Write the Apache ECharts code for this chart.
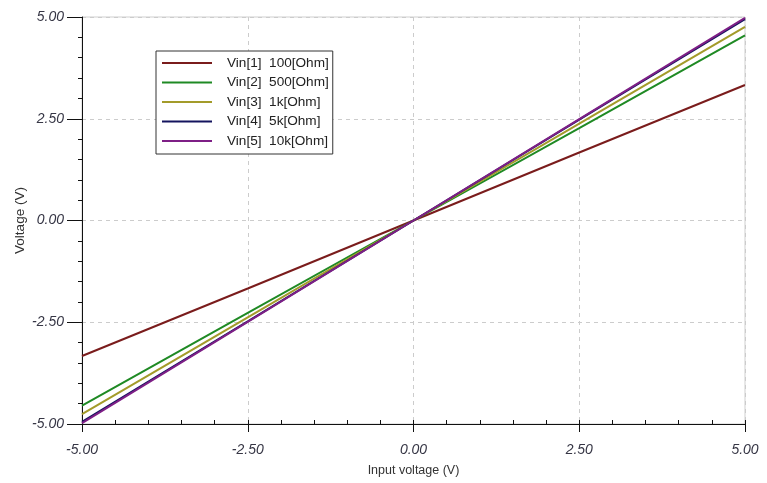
<!DOCTYPE html>
<html>
<head>
<meta charset="utf-8">
<script src="https://cdn.jsdelivr.net/npm/echarts@6/dist/echarts.min.js"></script>
<style>
  html, body { margin: 0; padding: 0; background: #fff; }
  #chart { width: 767px; height: 483px; }
</style>
</head>
<body>
<div id="chart"></div>
<script>
// Input voltage sweep points (V)
const inputVoltage = [-5.0, -2.5, 0.0, 2.5, 5.0];

// Output voltage for each load resistance (V)
const vin1 = [-3.33, -1.67, 0.0, 1.67, 3.33];
const vin2 = [-4.55, -2.27, 0.0, 2.27, 4.55];
const vin3 = [-4.76, -2.38, 0.0, 2.38, 4.76];
const vin4 = [-4.95, -2.48, 0.0, 2.48, 4.95];
const vin5 = [-4.98, -2.49, 0.0, 2.49, 4.98];

const seriesNames = [
  'Vin[1]  100[Ohm]',
  'Vin[2]  500[Ohm]',
  'Vin[3]  1k[Ohm]',
  'Vin[4]  5k[Ohm]',
  'Vin[5]  10k[Ohm]'
];
const seriesValues = [vin1, vin2, vin3, vin4, vin5];
const seriesColors = ['#7a1c1c', '#1f8a24', '#a39b2a', '#14145e', '#7e1f86'];

const tickFmt = v => v.toFixed(2);

const chart = echarts.init(document.getElementById('chart'));

const series = seriesNames.map((name, i) => ({
  name: name,
  type: 'line',
  xAxisIndex: 0,
  yAxisIndex: 0,
  showSymbol: false,
  symbol: 'none',
  lineStyle: { width: 2, color: seriesColors[i] },
  itemStyle: { color: seriesColors[i] },
  data: inputVoltage.map((x, j) => [x, seriesValues[i][j]]),
  z: 3 + i
}));

const tickLabel = {
  fontFamily: 'Liberation Sans, Arial, sans-serif',
  fontStyle: 'italic',
  fontSize: 14,
  color: '#363645'
};

chart.setOption({
  animation: false,
  backgroundColor: '#fff',
  grid: { left: 82, right: 22, top: 17, bottom: 59, show: true, borderColor: '#cfcfcf', borderWidth: 1 },
  legend: {
    orient: 'vertical',
    left: 156,
    top: 51,
    padding: [5, 4, 6, 6],
    itemGap: 5.5,
    itemWidth: 50,
    itemHeight: 14,
    backgroundColor: '#fff',
    borderColor: '#333',
    borderWidth: 1,
    borderRadius: 0,
    icon: 'path://M0,6 L50,6 L50,8 L0,8 Z',
    textStyle: {
      fontFamily: 'Liberation Sans, Arial, sans-serif',
      fontSize: 13.6,
      color: '#222',
      padding: [0, 0, 0, 10]
    },
    data: seriesNames
  },
  xAxis: [
    {
      type: 'value',
      min: -5, max: 5, interval: 2.5,
      name: 'Input voltage (V)',
      nameLocation: 'middle',
      nameGap: 40,
      nameMoveOverlap: false,
      nameTextStyle: { fontFamily: 'Liberation Sans, Arial, sans-serif', fontSize: 12.5, color: '#333' },
      axisLine: { show: true, onZero: false, lineStyle: { color: '#111', width: 1 } },
      axisTick: { show: true, length: 8, lineStyle: { color: '#111' } },
      axisLabel: Object.assign({ formatter: tickFmt, margin: 19 }, tickLabel),
      splitLine: { show: true, lineStyle: { color: '#cccccc', type: [4, 4] } }
    },
    {
      type: 'value',
      min: -5, max: 5, interval: 0.5,
      position: 'bottom',
      axisLine: { show: false, onZero: false },
      axisTick: { show: true, inside: true, length: 4, lineStyle: { color: '#111' } },
      axisLabel: { show: false },
      splitLine: { show: false }
    }
  ],
  yAxis: [
    {
      type: 'value',
      min: -5, max: 5, interval: 2.5,
      name: 'Voltage (V)',
      nameLocation: 'middle',
      nameGap: 55,
      nameMoveOverlap: false,
      nameTextStyle: { fontFamily: 'Liberation Sans, Arial, sans-serif', fontSize: 13.5, color: '#333' },
      axisLine: { show: true, onZero: false, lineStyle: { color: '#111', width: 1 } },
      axisTick: { show: true, length: 15, lineStyle: { color: '#111' } },
      minorTick: { show: true, splitNumber: 5, length: 4, lineStyle: { color: '#111' } },
      axisLabel: Object.assign({ formatter: tickFmt, margin: 18 }, tickLabel),
      splitLine: { show: true, lineStyle: { color: '#cccccc', type: [4, 4] } }
    }
  ],
  series: series
});
</script>
</body>
</html>
